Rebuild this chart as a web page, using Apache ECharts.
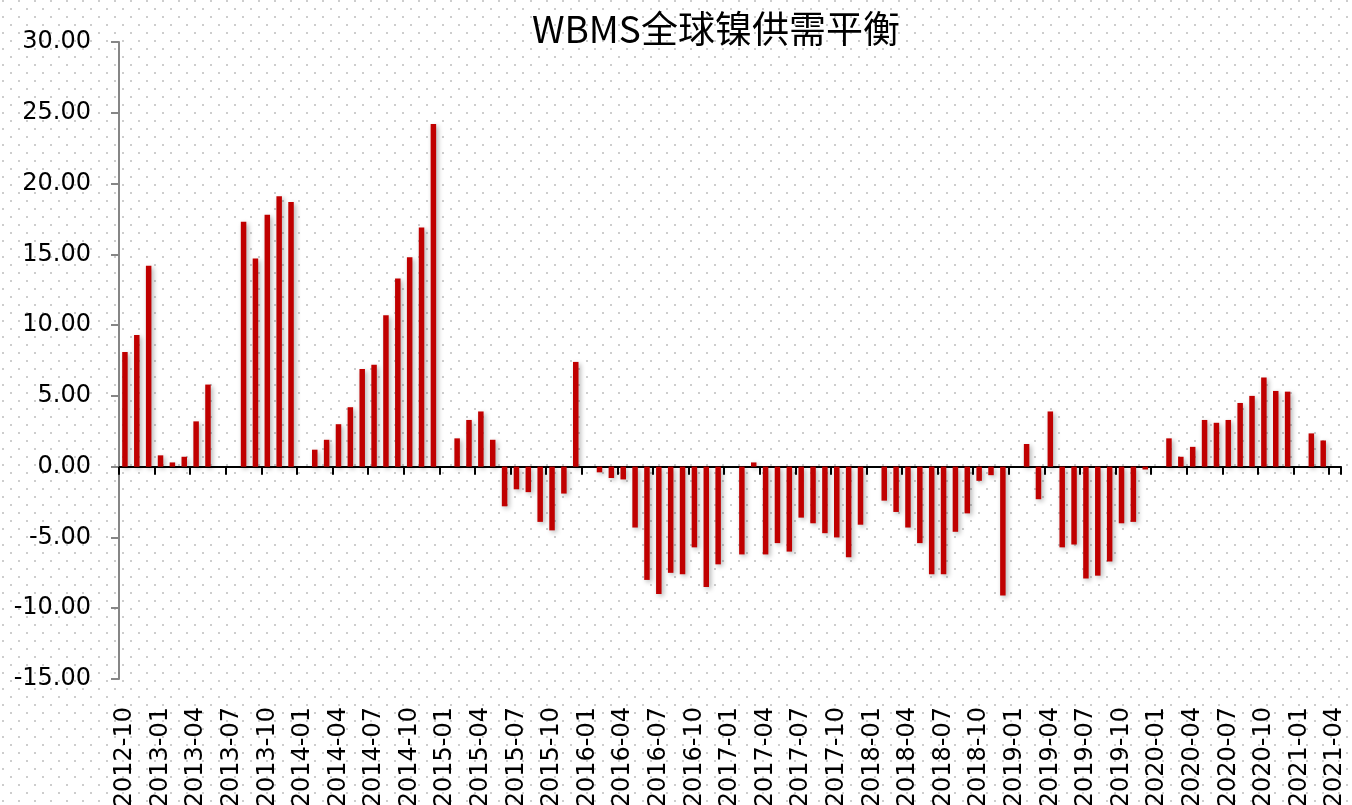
<!DOCTYPE html>
<html>
<head>
<meta charset="utf-8">
<title>WBMS全球镍供需平衡</title>
<script src="https://cdn.jsdelivr.net/npm/echarts@6/dist/echarts.min.js"></script>
<style>
  html, body { margin: 0; padding: 0; background: #fff; }
  #chart { width: 1352px; height: 805px; }
</style>
</head>
<body>
<div id="chart"></div>
<script>
// months on the axis, 2012-10 .. 2021-04
const months = [
  "2012-10", "2012-11", "2012-12",
  "2013-01", "2013-02", "2013-03", "2013-04", "2013-05", "2013-06",
  "2013-07", "2013-08", "2013-09", "2013-10", "2013-11", "2013-12",
  "2014-01", "2014-02", "2014-03", "2014-04", "2014-05", "2014-06",
  "2014-07", "2014-08", "2014-09", "2014-10", "2014-11", "2014-12",
  "2015-01", "2015-02", "2015-03", "2015-04", "2015-05", "2015-06",
  "2015-07", "2015-08", "2015-09", "2015-10", "2015-11", "2015-12",
  "2016-01", "2016-02", "2016-03", "2016-04", "2016-05", "2016-06",
  "2016-07", "2016-08", "2016-09", "2016-10", "2016-11", "2016-12",
  "2017-01", "2017-02", "2017-03", "2017-04", "2017-05", "2017-06",
  "2017-07", "2017-08", "2017-09", "2017-10", "2017-11", "2017-12",
  "2018-01", "2018-02", "2018-03", "2018-04", "2018-05", "2018-06",
  "2018-07", "2018-08", "2018-09", "2018-10", "2018-11", "2018-12",
  "2019-01", "2019-02", "2019-03", "2019-04", "2019-05", "2019-06",
  "2019-07", "2019-08", "2019-09", "2019-10", "2019-11", "2019-12",
  "2020-01", "2020-02", "2020-03", "2020-04", "2020-05", "2020-06",
  "2020-07", "2020-08", "2020-09", "2020-10", "2020-11", "2020-12",
  "2021-01", "2021-02", "2021-03", "2021-04"
];

// supply/demand balance, null = no bar
const balance = [
  8.1, 9.3, 14.2,
  0.8, 0.3, 0.7, 3.2, 5.8, null,
  null, 17.3, 14.7, 17.8, 19.1, 18.7,
  null, 1.2, 1.9, 3.0, 4.2, 6.9,
  7.2, 10.7, 13.3, 14.8, 16.9, 24.2,
  null, 2.0, 3.3, 3.9, 1.9, -2.8,
  -1.6, -1.8, -3.9, -4.5, -1.9, 7.4,
  null, -0.4, -0.8, -0.9, -4.3, -8.0,
  -9.0, -7.5, -7.6, -5.7, -8.5, -6.9,
  null, -6.2, 0.3, -6.2, -5.4, -6.0,
  -3.6, -4.0, -4.7, -5.0, -6.4, -4.1,
  null, -2.4, -3.2, -4.3, -5.4, -7.6,
  -7.6, -4.6, -3.3, -1.0, -0.6, -9.1,
  null, 1.6, -2.3, 3.9, -5.7, -5.5,
  -7.9, -7.7, -6.7, -4.0, -3.9, -0.2,
  null, 2.0, 0.7, 1.4, 3.3, 3.1,
  3.3, 4.5, 5.0, 6.3, 5.35, 5.3,
  null, 2.35, 1.85, null
];

const yMin = -15;
const yMax = 30;
const yStep = 5;

// dotted background like the original sheet
const dots = document.createElement("canvas");
dots.width = 16;
dots.height = 16;
const dctx = dots.getContext("2d");
dctx.fillStyle = "#cdcdcd";
dctx.fillRect(10, 8, 2, 2);
dctx.fillRect(2, 0, 2, 2);

const chart = echarts.init(document.getElementById("chart"));

const font = "DejaVu Sans";

const option = {
  backgroundColor: { image: dots, repeat: "repeat" },
  animation: false,
  title: {
    text: "WBMS全球镍供需平衡",
    left: 527,
    top: 5,
    textStyle: {
      fontFamily: "Noto Sans CJK SC",
      fontSize: 37,
      fontWeight: "normal",
      color: "#000",
    },
  },
  grid: {
    left: 119,
    right: 11,
    top: 42,
    bottom: 126,
    containLabel: false,
    outerBoundsMode: "none",
  },
  xAxis: [
    {
      type: "category",
      data: months,
      axisLine: {
        show: true,
        onZero: true,
        lineStyle: { color: "#000", width: 2 },
      },
      axisTick: {
        show: true,
        inside: false,
        interval: 2,
        alignWithLabel: false,
        length: 8,
        lineStyle: { color: "#000", width: 2 },
      },
      axisLabel: { show: false },
      splitLine: { show: false },
    },
    {
      type: "category",
      data: months,
      position: "bottom",
      axisLine: { show: false, onZero: false },
      axisTick: { show: false },
      axisLabel: {
        interval: 2,
        rotate: 90,
        margin: 28,
        fontFamily: font,
        fontSize: 24,
        color: "#000",
      },
      splitLine: { show: false },
    },
  ],
  yAxis: {
    type: "value",
    min: yMin,
    max: yMax,
    interval: yStep,
    axisLine: {
      show: true,
      lineStyle: { color: "#868686", width: 2 },
    },
    axisTick: {
      show: true,
      length: 8,
      lineStyle: { color: "#868686", width: 2 },
    },
    axisLabel: {
      margin: 28,
      fontFamily: font,
      fontSize: 24,
      color: "#000",
      formatter: (v) => v.toFixed(2),
    },
    splitLine: { show: false },
  },
  series: [
    {
      name: "WBMS全球镍供需平衡",
      type: "bar",
      xAxisIndex: 0,
      data: balance,
      barWidth: 5.5,
      itemStyle: {
        color: "#C00000",
        shadowColor: "rgba(0, 0, 0, 0.3)",
        shadowBlur: 5,
        shadowOffsetX: 2,
        shadowOffsetY: 2,
      },
    },
  ],
};

chart.setOption(option);
</script>
</body>
</html>
